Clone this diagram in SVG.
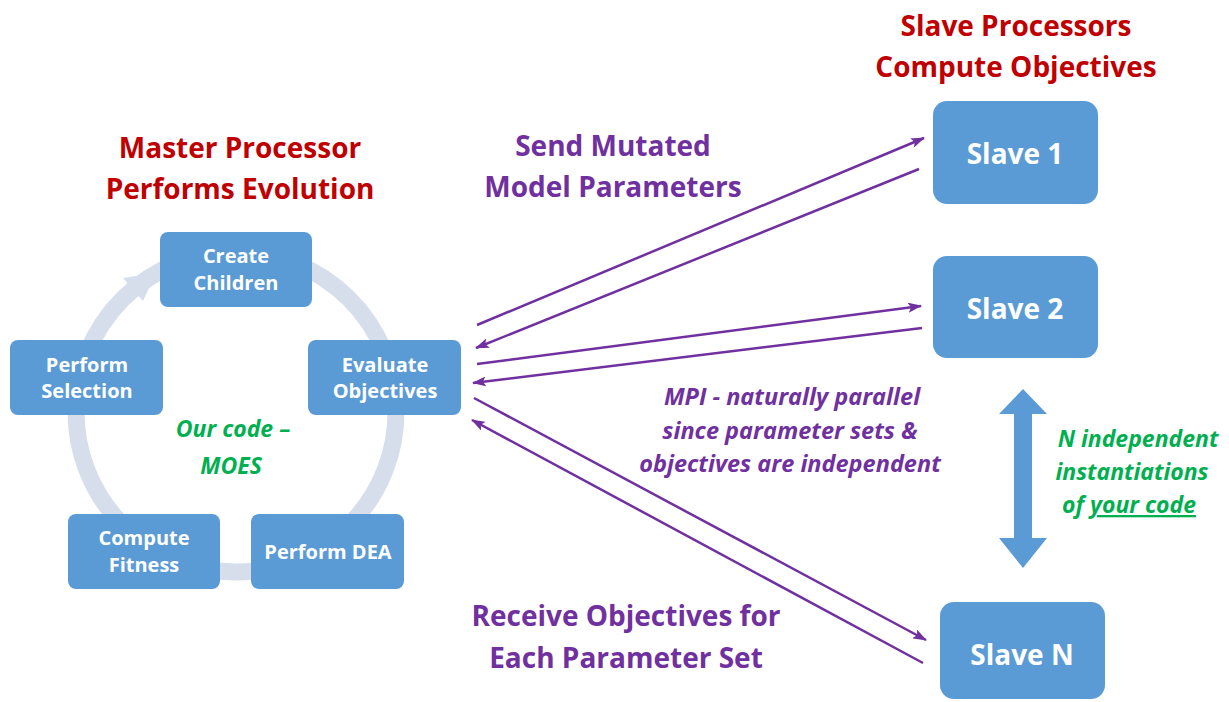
<svg xmlns="http://www.w3.org/2000/svg" width="1229" height="702" viewBox="0 0 1229 702">
<style>
.box{fill:#5b9bd5}
.bt{font-family:"Open Sans","Liberation Sans",sans-serif;font-weight:bold;fill:#ffffff;text-anchor:middle}
.red{font-family:"Open Sans","Liberation Sans",sans-serif;font-weight:bold;fill:#c00000;font-size:28px;text-anchor:middle}
.pur{font-family:"Open Sans","Liberation Sans",sans-serif;font-weight:bold;fill:#7030a0;font-size:28px;text-anchor:middle}
.pi{font-family:"Open Sans","Liberation Sans",sans-serif;font-weight:bold;font-style:italic;fill:#7030a0;font-size:23.5px;text-anchor:middle}
.gi{font-family:"Open Sans","Liberation Sans",sans-serif;font-weight:bold;font-style:italic;fill:#00b050;font-size:23px;text-anchor:middle}
.con{stroke:#7030a0;stroke-width:2.5;fill:none;marker-end:url(#ah)}
</style>
<defs>
<marker id="ah" markerWidth="14" markerHeight="10" refX="13" refY="5" orient="auto" markerUnits="userSpaceOnUse" viewBox="0 0 14 10">
<path d="M0,0 L14,5 L0,10 L3,5 Z" fill="#7030a0"/>
</marker>
</defs>
<rect width="1229" height="702" fill="#ffffff"/>

<g id="ring">
<circle cx="236" cy="412" r="160" fill="none" stroke="#d6deec" stroke-width="17"/>
<polygon points="123,278 156,273 143,301" fill="#d6deec"/>
</g>

<g id="title-master">
<text class="red" x="240" y="158">Master Processor</text>
<text class="red" x="240" y="199">Performs Evolution</text>
</g>
<g id="title-slave">
<text class="red" x="1016" y="36">Slave Processors</text>
<text class="red" x="1016" y="77">Compute Objectives</text>
</g>

<g id="create-children">
<rect class="box" x="160" y="232" width="152" height="75" rx="8"/>
<text class="bt" font-size="20" x="236" y="263">Create</text>
<text class="bt" font-size="20" x="236" y="290">Children</text>
</g>
<g id="perform-selection">
<rect class="box" x="10" y="340" width="153" height="75" rx="8"/>
<text class="bt" font-size="20" x="87" y="372">Perform</text>
<text class="bt" font-size="20" x="87" y="398">Selection</text>
</g>
<g id="evaluate-objectives">
<rect class="box" x="308" y="340" width="153" height="75" rx="8"/>
<text class="bt" font-size="20" x="385" y="372">Evaluate</text>
<text class="bt" font-size="20" x="385" y="398">Objectives</text>
</g>
<g id="compute-fitness">
<rect class="box" x="68" y="514" width="152" height="75" rx="8"/>
<text class="bt" font-size="20" x="144" y="545">Compute</text>
<text class="bt" font-size="20" x="144" y="572">Fitness</text>
</g>
<g id="perform-dea">
<rect class="box" x="251" y="514" width="153" height="75" rx="8"/>
<text class="bt" font-size="20" x="328" y="559">Perform DEA</text>
</g>

<g id="our-code">
<text class="gi" font-size="24" x="233" y="437">Our code –</text>
<text class="gi" font-size="24" x="231" y="474">MOES</text>
</g>

<g id="slave-1">
<rect class="box" x="933" y="101" width="165" height="103" rx="14"/>
<text class="bt" font-size="28" x="1015" y="164">Slave 1</text>
</g>
<g id="slave-2">
<rect class="box" x="933" y="256" width="165" height="102" rx="14"/>
<text class="bt" font-size="28" x="1015" y="319">Slave 2</text>
</g>
<g id="slave-n">
<rect class="box" x="940" y="602" width="165" height="97" rx="14"/>
<text class="bt" font-size="28" x="1022" y="665">Slave N</text>
</g>

<g id="double-arrow">
<polygon points="1023,389 1047,414 1032,414 1032,538 1047,538 1023,568 999,538 1014,538 1014,414 999,414" fill="#5b9bd5"/>
</g>

<g id="label-send">
<text class="pur" x="613" y="156">Send Mutated</text>
<text class="pur" x="613" y="197">Model Parameters</text>
</g>
<g id="label-receive">
<text class="pur" x="626" y="626">Receive Objectives for</text>
<text class="pur" x="626" y="668">Each Parameter Set</text>
</g>
<g id="label-mpi">
<text class="pi" x="792" y="405">MPI - naturally parallel</text>
<text class="pi" x="790" y="439">since parameter sets &amp;</text>
<text class="pi" x="790" y="472">objectives are independent</text>
</g>
<g id="label-n">
<text class="gi" x="1138" y="447">N independent</text>
<text class="gi" x="1132" y="480">instantiations</text>
<text class="gi" x="1129" y="513">of <tspan text-decoration="underline">your code</tspan></text>
</g>

<g id="connectors">
<line class="con" x1="477" y1="325" x2="924" y2="138"/>
<line class="con" x1="919" y1="169" x2="476" y2="348"/>
<line class="con" x1="477" y1="364" x2="921" y2="306"/>
<line class="con" x1="922" y1="328" x2="473" y2="383"/>
<line class="con" x1="474" y1="398" x2="926" y2="640"/>
<line class="con" x1="923" y1="663" x2="472" y2="420"/>
</g>
</svg>
